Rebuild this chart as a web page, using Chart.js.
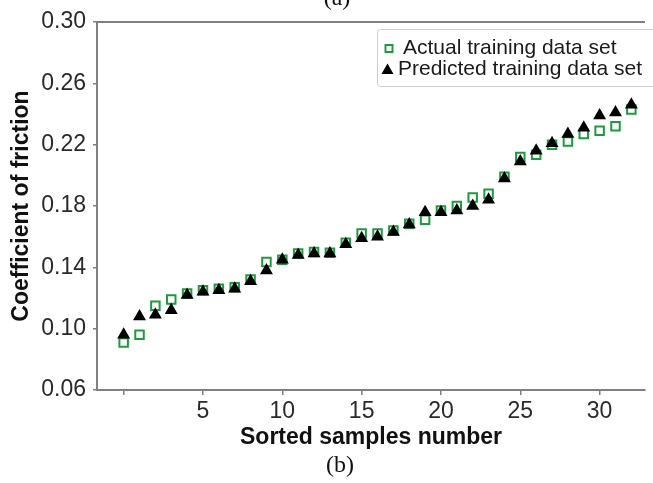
<!DOCTYPE html>
<html><head><meta charset="utf-8">
<script src="https://cdn.jsdelivr.net/npm/chart.js@4.4.0/dist/chart.umd.min.js"></script>
<style>html,body{margin:0;padding:0;background:#fff;overflow:hidden}#wrap{width:653px;height:483px;position:relative}</style>
</head><body><div id="wrap"><canvas id="c" width="653" height="483"></canvas></div>
<script>
const samples = [0,1,2,3,4,5,6,7,8,9,10,11,12,13,14,15,16,17,18,19,20,21,22,23,24,25,26,27,28,29,30,31,32];
const actual = [0.091,0.096,0.115,0.119,0.123,0.125,0.126,0.127,0.132,0.1435,0.145,0.149,0.150,0.1495,0.156,0.162,0.162,0.164,0.1685,0.171,0.177,0.180,0.1855,0.188,0.199,0.212,0.2135,0.220,0.222,0.227,0.229,0.232,0.243];
const predicted = [0.096,0.108,0.109,0.112,0.122,0.124,0.125,0.126,0.131,0.138,0.145,0.148,0.149,0.149,0.155,0.159,0.160,0.163,0.168,0.176,0.176,0.177,0.180,0.184,0.198,0.209,0.216,0.221,0.227,0.231,0.239,0.241,0.246];
const xTicks = [0,5,10,15,20,25,30];
const xTickLabels = ['', '5','10','15','20','25','30'];
const yTicks = [0.06,0.10,0.14,0.18,0.22,0.26,0.30];
const yTickLabels = ['0.06','0.10','0.14','0.18','0.22','0.26','0.30'];
const seriesNames = ['Actual training data set','Predicted training data set'];

const GREEN = '#1f9b3f';
const AXIS = '#808080';
const FONT = '"Liberation Sans", Arial, Helvetica, sans-serif';
Chart.defaults.font.family = FONT;

const deco = {
  id: 'deco',
  afterDraw(chart) {
    const {ctx, chartArea: a} = chart;
    ctx.save();
    // top frame line
    ctx.strokeStyle = AXIS; ctx.lineWidth = 2;
    ctx.beginPath(); ctx.moveTo(a.left, a.top); ctx.lineTo(a.right, a.top); ctx.stroke();
    // legend box
    ctx.fillStyle = '#fff'; ctx.strokeStyle = '#cfcfcf'; ctx.lineWidth = 1;
    ctx.beginPath();
    if (ctx.roundRect) ctx.roundRect(377.5, 29.5, 300, 57, 3); else ctx.rect(377.5, 29.5, 300, 57);
    ctx.fill(); ctx.stroke();
    ctx.font = '21px ' + FONT; ctx.fillStyle = '#1a1a1a'; ctx.textBaseline = 'middle'; ctx.textAlign = 'left';
    // item 1
    ctx.strokeStyle = GREEN; ctx.lineWidth = 2;
    ctx.strokeRect(385.5, 45, 7, 7);
    ctx.fillText(chart.data.datasets[0].label, 403, 48);
    // item 2
    ctx.fillStyle = '#000';
    ctx.beginPath(); ctx.moveTo(387.5, 63.5); ctx.lineTo(393.5, 74); ctx.lineTo(381.5, 74); ctx.closePath(); ctx.fill();
    ctx.fillStyle = '#1a1a1a';
    ctx.fillText(chart.data.datasets[1].label, 398, 69);
    // panel labels
    ctx.fillStyle = '#111'; ctx.textAlign = 'center';
    ctx.font = '24px "Liberation Serif", "Times New Roman", serif';
    ctx.textBaseline = 'alphabetic';
    ctx.fillText('(a)', 337, 5);
    ctx.textBaseline = 'middle';
    ctx.fillText('(b)', 340, 466);
    ctx.restore();
  }
};

new Chart(document.getElementById('c'), {
  type: 'scatter',
  data: {
    datasets: [
      {
        label: seriesNames[0],
        data: samples.map((s, i) => ({x: s, y: actual[i]})),
        pointStyle: 'rect', pointRadius: 6, pointBorderWidth: 2,
        pointBorderColor: GREEN, pointBackgroundColor: 'rgba(255,255,255,0)',
        order: 1
      },
      {
        label: seriesNames[1],
        data: samples.map((s, i) => ({x: s, y: predicted[i]})),
        pointStyle: 'triangle', pointRadius: 7.5, pointBorderWidth: 0,
        pointBorderColor: '#000', pointBackgroundColor: '#000',
        order: 0
      }
    ]
  },
  options: {
    responsive: false, animation: false, devicePixelRatio: 1,
    layout: {padding: {top: 22, left: 0, right: 0, bottom: 0}},
    plugins: {legend: {display: false}, tooltip: {enabled: false}},
    scales: {
      x: {
        type: 'linear', min: -1.68, max: 32.86,
        afterBuildTicks: s => { s.ticks = xTicks.map(v => ({value: v})); },
        afterFit: s => { s.height = 93; },
        ticks: {
          callback: (v, i) => xTickLabels[i],
          font: {size: 23}, color: '#2a2a2a', padding: 3, maxRotation: 0, autoSkip: false
        },
        grid: {drawOnChartArea: false, tickLength: 5, color: AXIS, lineWidth: 1.5},
        border: {color: AXIS, width: 2},
        title: {display: true, text: 'Sorted samples number', font: {size: 23, weight: 'bold'}, color: '#111', padding: {top: 0, bottom: 32}}
      },
      y: {
        type: 'linear', min: 0.06, max: 0.30,
        afterBuildTicks: s => { s.ticks = yTicks.map(v => ({value: v})); },
        afterFit: s => { s.width = 97; },
        ticks: {
          callback: (v, i) => yTickLabels[i],
          font: {size: 23}, color: '#2a2a2a', padding: 7, autoSkip: false
        },
        grid: {drawOnChartArea: false, tickLength: 4, color: AXIS, lineWidth: 1.5},
        border: {color: AXIS, width: 2},
        title: {display: true, text: 'Coefficient of friction', font: {size: 23, weight: 'bold'}, color: '#111', padding: {top: 8, bottom: 0}}
      }
    }
  },
  plugins: [deco]
});
</script></body></html>
